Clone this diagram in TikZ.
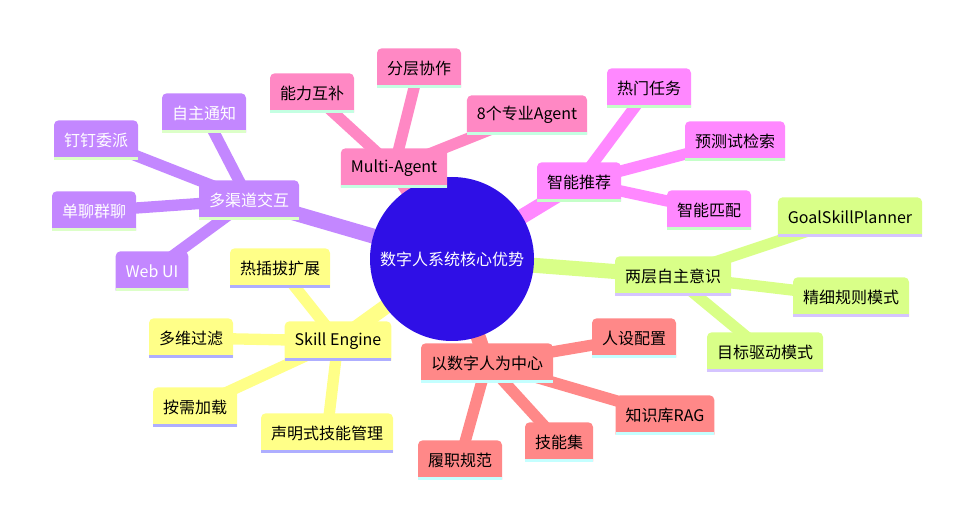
\documentclass[tikz,border=0pt]{standalone}
\usepackage{fontspec}
\setmainfont{Noto Sans CJK SC}
\usetikzlibrary{backgrounds}
\definecolor{rootc}{HTML}{2F0FE6}
\definecolor{purplec}{HTML}{C387FF}
\definecolor{pinkc}{HTML}{FF88C4}
\definecolor{magentac}{HTML}{FF88FF}
\definecolor{limec}{HTML}{D9FF88}
\definecolor{yellowc}{HTML}{FFFF88}
\definecolor{salmonc}{HTML}{FF8888}
\definecolor{purplel}{HTML}{DCFFC8}
\definecolor{pinkl}{HTML}{C4FFE2}
\definecolor{magental}{HTML}{C4FFC8}
\definecolor{limel}{HTML}{D5C4FF}
\definecolor{yellowl}{HTML}{AEAEFF}
\definecolor{salmonl}{HTML}{C4FFFF}
\tikzset{
  card/.style 2 args={rectangle, inner xsep=7.5pt, inner ysep=0pt, minimum height=29.5pt,
    font=\fontsize{12}{14}\selectfont,
    path picture={
      \fill[#1] (path picture bounding box.south west)
        -- ([yshift=-3.5pt]path picture bounding box.north west)
        arc[start angle=180, end angle=90, radius=3.5pt]
        -- ([xshift=-3.5pt]path picture bounding box.north east)
        arc[start angle=90, end angle=0, radius=3.5pt]
        -- (path picture bounding box.south east) -- cycle;
      \fill[#2] (path picture bounding box.south west)
        rectangle ([yshift=2.25pt]path picture bounding box.south east);
    }},
  trunk/.style={line width=11.25pt},
  twig/.style={line width=8.5pt},
}
\begin{document}
\begin{tikzpicture}[x=0.75pt, y=-0.75pt]
    \useasboundingbox (0,0) rectangle (953,530);
    % Root
    \node[circle, fill=rootc, minimum size=123pt, inner sep=0pt, text=white,
          font=\fontsize{12}{14}\selectfont] (root) at (452,259) {数字人系统核心优势};
    % Multi-Agent
    \node[card={pinkc}{pinkl}] (ma) at (394,168) {Multi-Agent};
    \node[card={pinkc}{pinkl}] (ma1) at (312,93) {能力互补};
    \node[card={pinkc}{pinkl}] (ma2) at (419,68) {分层协作};
    \node[card={pinkc}{pinkl}] (ma3) at (527,115) {8个专业Agent};
    % Channels
    \node[card={purplec}{purplel}, text=white] (ch) at (249,200) {多渠道交互};
    \node[card={purplec}{purplel}, text=white] (ch1) at (204,113) {自主通知};
    \node[card={purplec}{purplel}, text=white] (ch2) at (96,140) {钉钉委派};
    \node[card={purplec}{purplel}, text=white] (ch3) at (94,211) {单聊群聊};
    \node[card={purplec}{purplel}, text=white] (ch4) at (152,271) {Web UI};
    % Recommendation
    \node[card={magentac}{magental}] (rec) at (579,182) {智能推荐};
    \node[card={magentac}{magental}] (rec1) at (649,88) {热门任务};
    \node[card={magentac}{magental}] (rec2) at (735,141) {预测试检索};
    \node[card={magentac}{magental}] (rec3) at (709,210) {智能匹配};
    % Awareness
    \node[card={limec}{limel}] (aw) at (673,276) {两层自主意识};
    \node[card={limec}{limel}] (aw1) at (850,217) {GoalSkillPlanner};
    \node[card={limec}{limel}] (aw2) at (851,297) {精细规则模式};
    \node[card={limec}{limel}] (aw3) at (765,352) {目标驱动模式};
    % Skill Engine
    \node[card={yellowc}{yellowl}] (se) at (338,341) {Skill Engine};
    \node[card={yellowc}{yellowl}] (se1) at (280,268) {热插拔扩展};
    \node[card={yellowc}{yellowl}] (se2) at (191,338) {多维过滤};
    \node[card={yellowc}{yellowl}] (se3) at (195,407) {按需加载};
    \node[card={yellowc}{yellowl}] (se4) at (327,433) {声明式技能管理};
    % Digital human
    \node[card={salmonc}{salmonl}] (dh) at (487,363) {以数字人为中心};
    \node[card={salmonc}{salmonl}] (dh1) at (634,338) {人设配置};
    \node[card={salmonc}{salmonl}] (dh2) at (665,415) {知识库RAG};
    \node[card={salmonc}{salmonl}] (dh3) at (559,442) {技能集};
    \node[card={salmonc}{salmonl}] (dh4) at (460,460) {履职规范};
    % Branches
    \begin{scope}[on background layer]
        \draw[trunk, pinkc] (root.center) -- (ma.center);
        \draw[trunk, purplec] (root.center) -- (ch.center);
        \draw[trunk, magentac] (root.center) -- (rec.center);
        \draw[trunk, limec] (root.center) -- (aw.center);
        \draw[trunk, yellowc] (root.center) -- (se.center);
        \draw[trunk, salmonc] (root.center) -- (dh.center);
        \foreach \c in {ma1, ma2, ma3} {
            \draw[twig, pinkc] (ma.center) -- (\c.center);
        }
        \foreach \c in {ch1, ch2, ch3, ch4} {
            \draw[twig, purplec] (ch.center) -- (\c.center);
        }
        \foreach \c in {rec1, rec2, rec3} {
            \draw[twig, magentac] (rec.center) -- (\c.center);
        }
        \foreach \c in {aw1, aw2, aw3} {
            \draw[twig, limec] (aw.center) -- (\c.center);
        }
        \foreach \c in {se1, se2, se3, se4} {
            \draw[twig, yellowc] (se.center) -- (\c.center);
        }
        \foreach \c in {dh1, dh2, dh3, dh4} {
            \draw[twig, salmonc] (dh.center) -- (\c.center);
        }
    \end{scope}
\end{tikzpicture}
\end{document}
